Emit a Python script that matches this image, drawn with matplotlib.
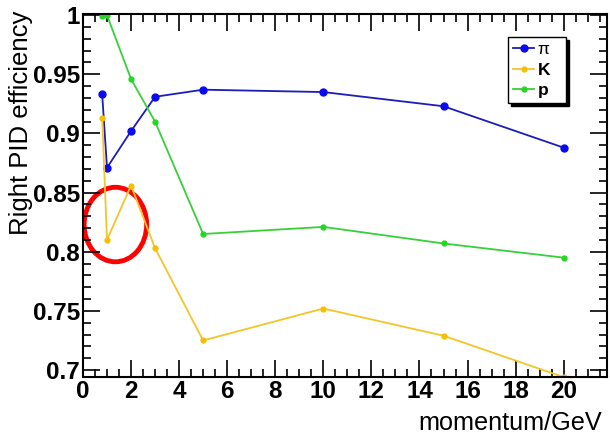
import matplotlib.pyplot as plt
from matplotlib.patches import Ellipse
from matplotlib.ticker import MultipleLocator

plt.rcParams['font.family'] = ['Liberation Sans', 'DejaVu Sans']

momentum = [0.8, 1, 2, 3, 5, 10, 15, 20]
eff_pi = [0.933, 0.871, 0.902, 0.931, 0.937, 0.935, 0.923, 0.888]
eff_k = [0.913, 0.810, 0.856, 0.803, 0.725, 0.752, 0.729, 0.694]
eff_p = [0.999, 1.000, 0.946, 0.910, 0.815, 0.821, 0.807, 0.795]

fig = plt.figure(figsize=(6.1, 4.37), dpi=100)
ax = fig.add_axes([0.136, 0.137, 0.859, 0.831])

ax.plot(momentum, eff_pi, color='#1c1cb8', lw=1.3, marker='o', ms=5,
        mfc='#0a0aee', mec='#0a0aee', label='π')
ax.plot(momentum, eff_k, color='#f2c52a', lw=1.3, marker='o', ms=3.5,
        mfc='#f5c000', mec='#f5c000', label='K')
ax.plot(momentum, eff_p, color='#38d038', lw=1.3, marker='o', ms=3.5,
        mfc='#22d822', mec='#22d822', label='p')

ax.set_xlim(0, 21.8)
ax.set_ylim(0.694, 1.001)
ax.xaxis.set_major_locator(MultipleLocator(2))
ax.xaxis.set_minor_locator(MultipleLocator(0.5))
ax.yaxis.set_major_locator(MultipleLocator(0.05))
ax.yaxis.set_minor_locator(MultipleLocator(0.01))
ax.set_yticks([0.7, 0.75, 0.8, 0.85, 0.9, 0.95, 1.0])
ax.set_yticklabels(['0.7', '0.75', '0.8', '0.85', '0.9', '0.95', '1'])
ax.tick_params(which='both', direction='in', top=True, right=True, width=1.2)
ax.tick_params(which='major', length=12, labelsize=17.5, pad=2)
ax.tick_params(which='minor', length=6)
for lab in ax.get_xticklabels() + ax.get_yticklabels():
    lab.set_fontweight('bold')
for s in ax.spines.values():
    s.set_linewidth(1.5)

ax.set_xlabel('momentum/GeV', fontsize=18.2, ha='right', x=0.99, labelpad=6)
ax.set_ylabel('Right PID efficiency', fontsize=18.5, ha='right', y=1.01, labelpad=0)

leg = ax.legend(loc='upper left', bbox_to_anchor=(0.811, 0.5, 0.111, 0.437),
                mode='expand', prop={'weight': 'bold', 'size': 12.5},
                frameon=True, fancybox=False,
                shadow={'color': 'black', 'alpha': 1, 'ox': 2, 'oy': -2},
                edgecolor='black',
                handlelength=1.2, handletextpad=0.2, borderpad=0.3,
                labelspacing=0.3, borderaxespad=0)
leg.get_frame().set_linewidth(1.0)
leg.get_texts()[0].set_fontweight('normal')

ax.add_patch(Ellipse((1.35, 0.823), 2.6, 0.063, fill=False, ec='red', lw=3.5))

fig.savefig('out.png', dpi=100)
